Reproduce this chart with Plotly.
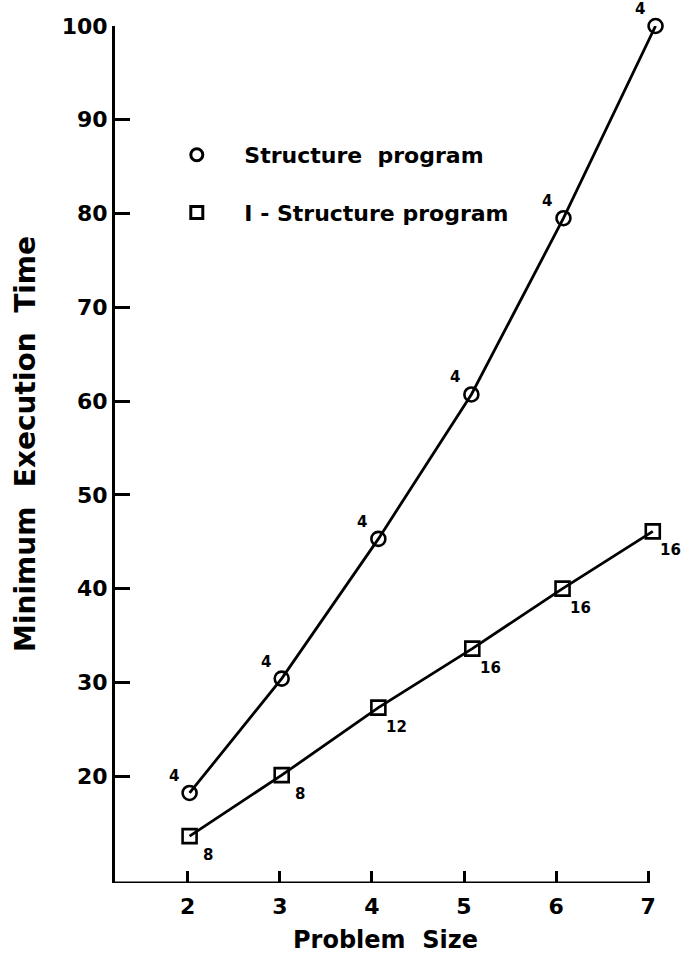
import plotly.graph_objects as go

# Data
problem_size_structure = [2.02, 3.02, 4.07, 5.08, 6.08, 7.08]
time_structure = [18.2, 30.4, 45.3, 60.7, 79.5, 100.0]
labels_structure = ["4", "4", "4", "4", "4", "4"]

problem_size_istructure = [2.02, 3.02, 4.07, 5.09, 6.07, 7.05]
time_istructure = [13.6, 20.1, 27.3, 33.6, 40.0, 46.1]
labels_istructure = ["8", "8", "12", "16", "16", "16"]

x_ticks = [2, 3, 4, 5, 6, 7]
y_ticks = [20, 30, 40, 50, 60, 70, 80, 90, 100]
x_min, x_axis_end, x_max = 1.21, 7.0, 7.15
y_min, y_max = 8.6, 100

FONT = "DejaVu Sans"
lab_font = dict(family=FONT, size=15, color="black", weight="bold")

fig = go.Figure()

fig.add_trace(go.Scatter(
    x=problem_size_structure, y=time_structure,
    mode="lines+markers",
    line=dict(color="black", width=2.8),
    marker=dict(symbol="circle-open", size=14, color="black", line=dict(width=2.6)),
    showlegend=False, cliponaxis=False,
))
fig.add_trace(go.Scatter(
    x=problem_size_istructure, y=time_istructure,
    mode="lines+markers",
    line=dict(color="black", width=2.8),
    marker=dict(symbol="square-open", size=14, color="black", line=dict(width=2.6)),
    showlegend=False, cliponaxis=False,
))
# legend entries (markers only)
fig.add_trace(go.Scatter(
    x=[None], y=[None], mode="markers", name="Structure  program", legendgroup="a",
    marker=dict(symbol="circle-open", size=12, color="black", line=dict(width=3)),
))
fig.add_trace(go.Scatter(
    x=[None], y=[None], mode="markers", name="I - Structure program", legendgroup="b",
    marker=dict(symbol="square-open", size=12, color="black", line=dict(width=3)),
))

# point labels
for xv, yv, t in zip(problem_size_structure, time_structure, labels_structure):
    fig.add_annotation(x=xv, y=yv, text=t, showarrow=False, xshift=-16, yshift=17,
                       font=lab_font, xanchor="center", yanchor="middle")
for xv, yv, t in zip(problem_size_istructure, time_istructure, labels_istructure):
    fig.add_annotation(x=xv, y=yv, text=t, showarrow=False, xshift=18, yshift=-19,
                       font=lab_font, xanchor="center", yanchor="middle")

# x axis line ending at the last tick
fig.add_shape(type="line", xref="x", yref="y", x0=x_min, x1=x_axis_end, y0=y_min, y1=y_min,
              line=dict(color="black", width=3))

fig.add_annotation(text="Minimum  Execution  Time", xref="paper", yref="paper", x=-0.165, y=0.512,
                   xanchor="center", yanchor="middle", textangle=-90, showarrow=False,
                   font=dict(family=FONT, size=28, weight="bold"))
fig.add_annotation(text="Problem  Size", xref="paper", yref="paper", x=0.494, y=-0.0665,
                   xanchor="center", yanchor="middle", showarrow=False,
                   font=dict(family=FONT, size=24, weight="bold"))

fig.update_layout(
    width=681, height=977,
    margin=dict(l=115, r=19, t=26, b=94, autoexpand=False),
    paper_bgcolor="white", plot_bgcolor="white",
    font=dict(family=FONT, color="black"),
    legend=dict(
        x=0.0627, y=0.874, xanchor="left", yanchor="top",
        font=dict(family=FONT, size=22, weight="bold"),
        itemwidth=85, tracegroupgap=26, bgcolor="rgba(0,0,0,0)",
    ),
)

fig.update_xaxes(
    range=[x_min, x_max], tickvals=x_ticks, ticktext=[str(v) for v in x_ticks],
    ticks="inside", ticklen=12, tickwidth=2.5, tickcolor="black",
    showline=False, showgrid=False, zeroline=False, automargin=False,
    tickfont=dict(family=FONT, size=22, weight="bold"), ticklabelstandoff=8,
)
fig.update_yaxes(
    range=[y_min, y_max], tickvals=y_ticks, ticktext=[str(v) for v in y_ticks],
    ticks="inside", ticklen=15, tickwidth=2.5, tickcolor="black",
    showline=True, linewidth=3, linecolor="black",
    showgrid=False, zeroline=False, automargin=False,
    tickfont=dict(family=FONT, size=22, weight="bold"),
)

fig.write_html(
    "out.html",
    config={"displayModeBar": False},
    post_script="document.body.style.margin='0';document.body.style.overflow='hidden';",
)
